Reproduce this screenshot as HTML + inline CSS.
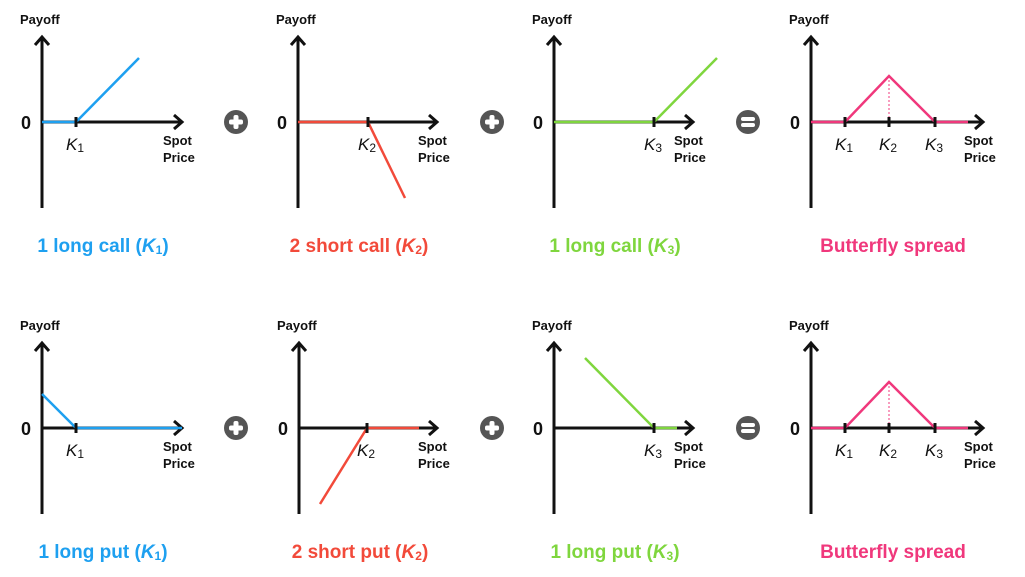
<!DOCTYPE html>
<html><head><meta charset="utf-8"><style>
html,body{margin:0;padding:0;background:#fff;}
svg{display:block;font-family:"Liberation Sans",sans-serif;}
.lbl{font-weight:bold;font-size:13px;fill:#111;}
.zero{font-weight:bold;font-size:18px;fill:#111;}
.k{font-size:17px;font-style:italic;fill:#111;}
.title{font-weight:bold;font-size:19px;}
</style></head><body>
<svg id="c" width="1025" height="577" viewBox="0 0 1025 577"></svg>
<script>
// Panel origins (layout)
const panelOrigins = [[42,122],[298,122],[554,122],[811,122],[42,428],[299,428],[554,428],[811,428]];
const axisLengths = [140,139,139,172,140,138,139,172];
// Data: strike positions (x units from origin) per panel
const strikes = [[34],[70],[100],[34,78,124],[34],[68],[100],[34,78,124]];
const strikeLabels = [["1"],["2"],["3"],["1","2","3"],["1"],["2"],["3"],["1","2","3"]];
// Payoff series: x values and payoff values
const payoffX = [[0,34,97],[0,70,107],[0,100,163],[0,34,78,124,157],[0,34,140],[21,68,120],[31,100,123],[0,34,78,124,157]];
const payoffY = [[0,0,64],[0,0,-76],[0,0,64],[0,0,46,0,0],[34,0,0],[-76,0,0],[70,0,0],[0,0,46,0,0]];
const colors = ["#1ea0f0","#f24a3a","#7fd63e","#f0387c","#1ea0f0","#f24a3a","#7fd63e","#f0387c"];
const titles = ["1 long call (","2 short call (","1 long call (","Butterfly spread","1 long put (","2 short put (","1 long put (","Butterfly spread"];
const titleK = ["1","2","3",null,"1","2","3",null];
const NS="http://www.w3.org/2000/svg";
const svg=document.getElementById('c');
function mk(tag,attrs,parent){const e=document.createElementNS(NS,tag);for(const k in attrs)e.setAttribute(k,attrs[k]);(parent||svg).appendChild(e);return e;}
const slugs=["long-call-k1","short-call-k2","long-call-k3","butterfly-call","long-put-k1","short-put-k2","long-put-k3","butterfly-put"];
panelOrigins.forEach((o,i)=>{
  const ox=o[0],oy=o[1];
  const xs=v=>ox+v, ys=v=>oy-v;
  const g=mk('g',{});
  
  
  const ya=mk('line',{x1:ox,y1:oy+86,x2:ox,y2:oy-84,stroke:'#111','stroke-width':3},g);
  
  const yh=mk('path',{d:`M${ox-7},${oy-77} L${ox},${oy-85} L${ox+7},${oy-77}`,fill:'none',stroke:'#111','stroke-width':3},g);
  
  const L=axisLengths[i];
  const xa=mk('line',{x1:ox,y1:oy,x2:ox+L-1,y2:oy,stroke:'#111','stroke-width':3},g);
  
  const xh=mk('path',{d:`M${ox+L-8},${oy-7} L${ox+L},${oy} L${ox+L-8},${oy+7}`,fill:'none',stroke:'#111','stroke-width':3},g);
  
  const yt=mk('text',{x:ox-22,y:oy-98,class:'lbl'},g);yt.textContent='Payoff';
  
  const z=mk('text',{x:ox-21,y:oy+7,class:'zero'},g);z.textContent='0';
  
  const sp=mk('text',{x:ox+L-19,y:oy+23,class:'lbl'},g);sp.textContent='Spot';
  
  const pr=mk('text',{x:ox+L-19,y:oy+40,class:'lbl'},g);pr.textContent='Price';
  
  // series
  const pts=payoffX[i].map((x,j)=>xs(x)+','+ys(payoffY[i][j])).join(' ');
  const pl=mk('polyline',{points:pts,fill:'none',stroke:colors[i],'stroke-width':2.5},g);
  
  if(titleK[i]===null){
    let m=0;payoffY[i].forEach((v,j)=>{if(v>payoffY[i][m])m=j;});
    const dl=mk('line',{x1:xs(payoffX[i][m]),y1:ys(payoffY[i][m]),x2:xs(payoffX[i][m]),y2:oy,stroke:colors[i],'stroke-width':1,'stroke-dasharray':'2,2'},g);
    
  }
  strikes[i].forEach((s,j)=>{
    const tk=mk('line',{x1:xs(s),y1:oy-5,x2:xs(s),y2:oy+5,stroke:'#111','stroke-width':3},g);
    
    const t=mk('text',{x:xs(s)-10,y:oy+28,class:'k'},g);
    
    t.appendChild(document.createTextNode('K'));
    const sub=mk('tspan',{'font-size':'12','font-style':'normal',dy:'2'},t);sub.textContent=strikeLabels[i][j];
  });
  const tcx=(i%4===3)?ox+82:ox+61;
  const tt=mk('text',{x:tcx,y:oy+130,class:'title','text-anchor':'middle',fill:colors[i]},g);
  
  tt.appendChild(document.createTextNode(titles[i]));
  if(titleK[i]!==null){
    const a=mk('tspan',{'font-style':'italic'},tt);a.textContent='K';
    const b=mk('tspan',{'font-size':'12','dy':'2'},tt);b.textContent=titleK[i];
    const c=mk('tspan',{'dy':'-2'},tt);c.textContent=')';
  }
});
const opX=[236,492,748];
[122,428].forEach(y=>{
  opX.forEach((x,j)=>{
    const g=mk('g',{});
    
    
    mk('circle',{cx:x,cy:y,r:12,fill:'#555'},g);
    if(j<2){
      mk('rect',{x:x-7,y:y-2.5,width:14,height:5,rx:2,fill:'#fff'},g);
      mk('rect',{x:x-2.5,y:y-7,width:5,height:14,rx:2,fill:'#fff'},g);
    }else{
      mk('rect',{x:x-7,y:y-5,width:14,height:4,rx:2,fill:'#fff'},g);
      mk('rect',{x:x-7,y:y+1,width:14,height:4,rx:2,fill:'#fff'},g);
    }
  });
});
</script>
</body></html>
